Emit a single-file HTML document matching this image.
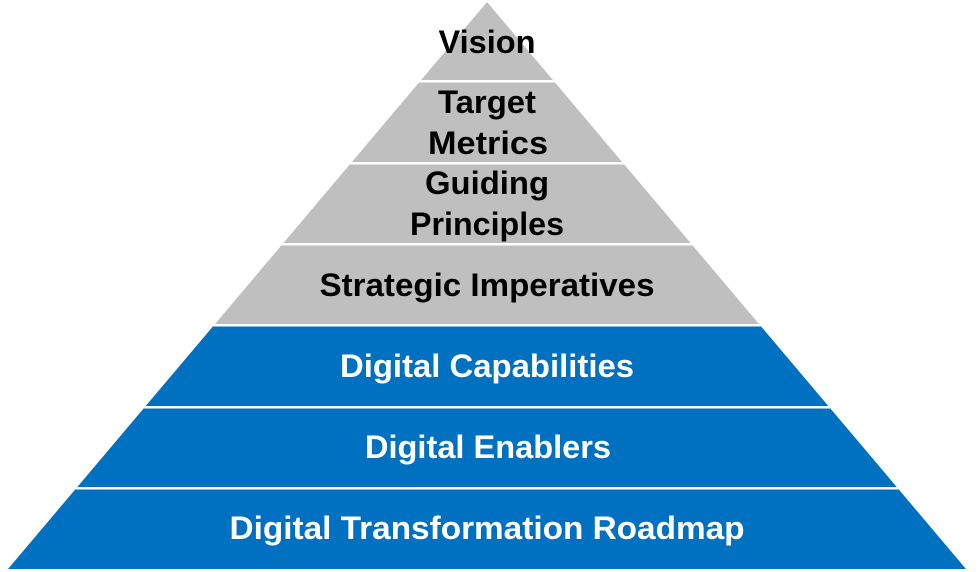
<!DOCTYPE html>
<html><head><style>html,body{margin:0;padding:0;background:#fff}svg{display:block}</style></head>
<body>
<svg width="979" height="572" viewBox="0 0 979 572" xmlns="http://www.w3.org/2000/svg">
<defs><clipPath id="t"><polygon points="487,2 966,569 8,569"/></clipPath></defs>
<g clip-path="url(#t)">
<rect x="0" y="0" width="979" height="326" fill="#bfbfbf"/>
<rect x="0" y="326" width="979" height="250" fill="#0070c0"/>
<g fill="#fff">
<rect x="0" y="80" width="979" height="2.5"/>
<rect x="0" y="162" width="979" height="2.5"/>
<rect x="0" y="243" width="979" height="2.5"/>
<rect x="0" y="324" width="979" height="2.5"/>
<rect x="0" y="406" width="979" height="2.5"/>
<rect x="0" y="487" width="979" height="2.5"/>
</g>
</g>
<g font-family="'Liberation Sans',sans-serif" font-weight="bold" font-size="32" text-anchor="middle">
<text x="487" y="53" textLength="97" lengthAdjust="spacingAndGlyphs">Vision</text>
<text x="487" y="113" textLength="98" lengthAdjust="spacingAndGlyphs">Target</text>
<text x="488" y="154" textLength="120" lengthAdjust="spacingAndGlyphs">Metrics</text>
<text x="487" y="194" textLength="124" lengthAdjust="spacingAndGlyphs">Guiding</text>
<text x="487" y="235" textLength="154" lengthAdjust="spacingAndGlyphs">Principles</text>
<text x="487" y="296" textLength="335" lengthAdjust="spacingAndGlyphs">Strategic Imperatives</text>
<g fill="#fff">
<text x="487" y="377" textLength="294" lengthAdjust="spacingAndGlyphs">Digital Capabilities</text>
<text x="488" y="458" textLength="246" lengthAdjust="spacingAndGlyphs">Digital Enablers</text>
<text x="487" y="539" textLength="515" lengthAdjust="spacingAndGlyphs">Digital Transformation Roadmap</text>
</g>
</g>
</svg>
</body></html>
